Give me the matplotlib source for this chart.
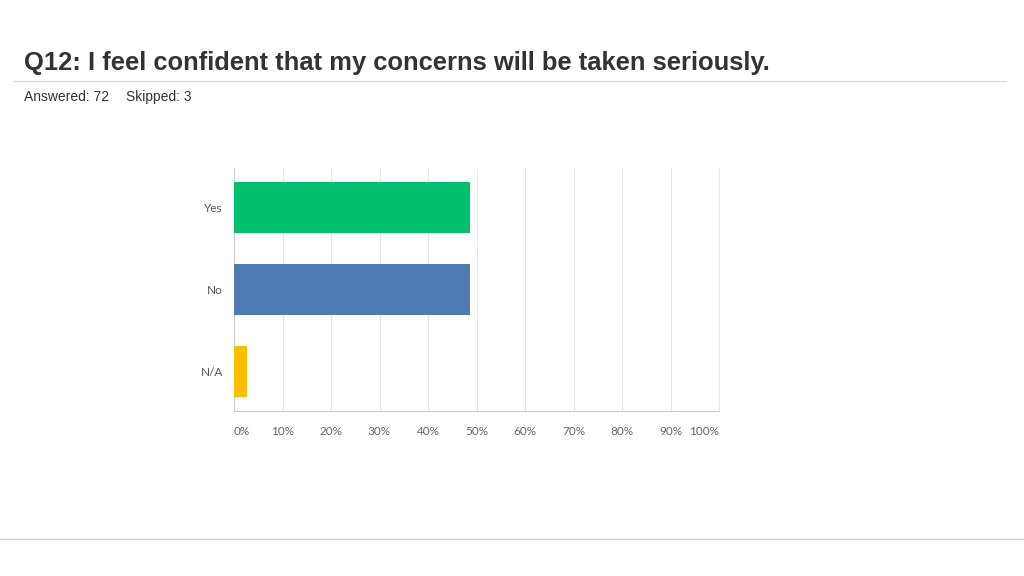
import matplotlib
matplotlib.use("Agg")
import matplotlib.pyplot as plt
from matplotlib.lines import Line2D

categories = ["Yes", "No", "N/A"]
values = [48.61, 48.61, 2.78]
colors = ["#00BF6F", "#507CB6", "#F9BE00"]
xticks = [0, 10, 20, 30, 40, 50, 60, 70, 80, 90, 100]
xtick_labels = [f"{t}%" for t in xticks]
title = "Q12: I feel confident that my concerns will be taken seriously."
subtitle_answered = "Answered: 72"
subtitle_skipped = "Skipped: 3"

plt.rcParams['font.family'] = ['Liberation Sans', 'DejaVu Sans']

fig = plt.figure(figsize=(10.24, 5.76), dpi=100)
fig.patch.set_facecolor("white")

ax = fig.add_axes([234/1024, 1 - 411/576, 485/1024, 243/576])
y = list(range(len(categories)))
ax.barh(y, values, height=0.62, color=colors, zorder=3)
ax.set_xlim(0, 100)
ax.set_ylim(2.48, -0.48)
ax.set_yticks(y)
ax.set_yticklabels(categories, fontsize=8.5, color="#555555", family=['Lato', 'DejaVu Sans'])
ax.set_xticks(xticks)
labels = ax.set_xticklabels(xtick_labels, fontsize=8.5, color="#666666", family=['Lato', 'DejaVu Sans'])
labels[0].set_ha("left")
labels[-1].set_ha("right")
ax.tick_params(axis="both", length=0)
ax.tick_params(axis="x", pad=11)
ax.tick_params(axis="y", pad=8)
ax.grid(axis="x", color="#E6E6E6", linewidth=0.8, zorder=0)
for s in ["top"]:
    ax.spines[s].set_visible(False)
ax.spines["right"].set_color("#E6E6E6")
ax.spines["right"].set_linewidth(0.8)
ax.spines["left"].set_color("#CCCCCC")
ax.spines["bottom"].set_color("#CCCCCC")

fig.text(24/1024, 1 - 63/576, title, fontsize=18.4, fontweight="bold", color="#333333",
         va="center", ha="left")
fig.add_artist(Line2D([14/1024, 1006/1024], [1 - 81/576, 1 - 81/576], color="#DDDDDD", linewidth=1))
fig.text(24/1024, 1 - 97/576, subtitle_answered, fontsize=10, color="#333333", va="center", ha="left")
fig.text(126/1024, 1 - 97/576, subtitle_skipped, fontsize=10, color="#333333", va="center", ha="left")
fig.add_artist(Line2D([0, 1], [1 - 539/576, 1 - 539/576], color="#CCCCCC", linewidth=1))

fig.savefig("out.png", dpi=100, facecolor="white")
